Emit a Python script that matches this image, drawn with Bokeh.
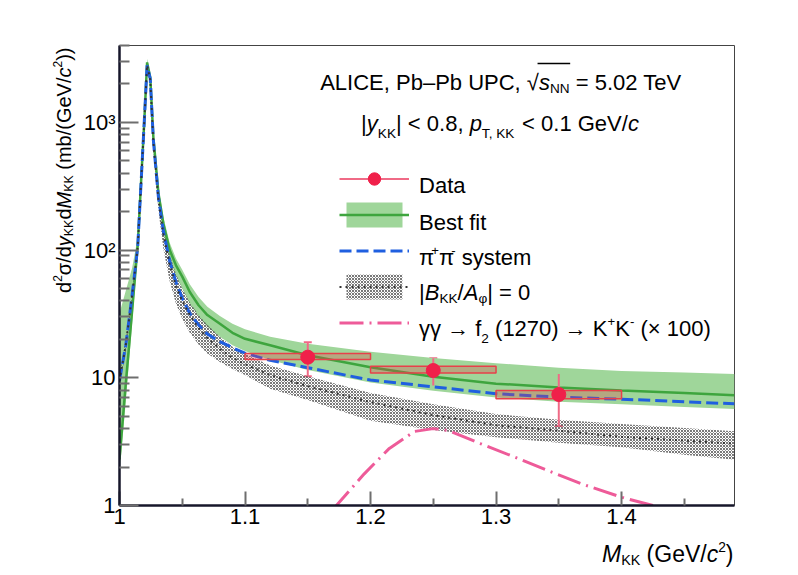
import math
from bokeh.plotting import figure
from bokeh.layouts import row, column
from bokeh.models import (Range1d, FixedTicker, CustomJSTickFormatter, Label, Legend,
                          LegendItem, ColumnDataSource, Whisker, TeeHead, BoxAnnotation)
from bokeh.embed import file_html
from bokeh.resources import INLINE

# ---------------- data ----------------
FIT_X = [1.000, 1.005, 1.010, 1.0145, 1.0197, 1.0220, 1.0245, 1.027, 1.031, 1.035,
         1.040, 1.045, 1.050, 1.056, 1.063, 1.070, 1.080, 1.090, 1.100, 1.120,
         1.150, 1.200, 1.250, 1.300, 1.350, 1.400, 1.450, 1.490]

BEST_FIT = [2.3, 9.0, 33, 108, 1000, 2950, 2250, 760, 280, 160,
            100, 76, 62, 47, 37, 31, 26.5, 22.5, 20.2, 18,
            15, 12.1, 10.2, 9.0, 8.4, 7.95, 7.6, 7.3]
BEST_FIT_HI = [32, 48, 72, 125, 1080, 3150, 2400, 820, 310, 180,
               114, 86, 70, 54, 43, 36, 30.5, 26.5, 24, 21,
               18.5, 16, 14.3, 13, 12, 11.3, 11, 10.7]
BEST_FIT_LO = [1.8, 6.5, 26, 92, 920, 2750, 2050, 680, 245, 135,
               84, 63, 50, 38, 30, 25, 21, 18, 16.2, 13.8,
               11.5, 9.2, 7.9, 7.0, 6.5, 6.2, 5.9, 5.7]

PIPI = [9.5, 18, 44, 105, 1000, 2800, 2200, 720, 260, 140,
        82, 56, 42, 32, 26, 22, 19.2, 17.2, 15.6, 13.7,
        12.0, 9.6, 8.5, 7.5, 7.05, 6.8, 6.5, 6.25]

NOINT = [9.5, 18, 44, 105, 1000, 2800, 2150, 700, 250, 132,
         77, 52, 40, 31, 24.5, 20.5, 16.8, 14.3, 12.8, 10.5,
         8.6, 6.45, 5.1, 4.25, 3.85, 3.45, 3.22, 3.05]
NOINT_HI = [10.5, 20, 48, 113, 1060, 2950, 2300, 760, 275, 150,
            92, 65, 50, 39, 31, 26, 21, 17.5, 15.4, 12.5,
            10.3, 7.6, 6.2, 5.2, 4.7, 4.35, 4.05, 3.82]
NOINT_LO = [8.5, 16, 40, 96, 920, 2600, 1900, 600, 205, 102,
            57, 38, 29, 22.5, 18.2, 15.5, 13.3, 11.7, 10.5, 8.2,
            6.7, 4.6, 3.9, 3.43, 3.1, 2.86, 2.5, 2.28]

F2_X = [1.170, 1.195, 1.215, 1.235, 1.250, 1.262, 1.288, 1.315, 1.341, 1.368, 1.400, 1.425, 1.450]
F2_Y = [0.93, 1.77, 2.8, 3.8, 4.0, 3.87, 3.04, 2.39, 1.88, 1.48, 1.16, 1.0, 0.88]

DATA_X = [1.15, 1.25, 1.35]
DATA_Y = [14.5, 11.4, 7.4]
STAT_LO = [10.3, 8.7, 4.2]
STAT_HI = [19.0, 14.2, 10.7]
BIN_LO = [1.1, 1.2, 1.3]
BIN_HI = [1.2, 1.3, 1.4]
SYS_LO = [13.9, 10.9, 6.85]
SYS_HI = [15.5, 12.3, 7.95]

X_TICKS = [1.0, 1.1, 1.2, 1.3, 1.4]
X_TICK_LABELS = ["1", "1.1", "1.2", "1.3", "1.4"]
X_MINOR = [1.05, 1.15, 1.25, 1.35, 1.45]
Y_TICKS = [1, 10, 100, 1000]
Y_TICK_LABELS = ["1", "10", "10²", "10³"]
Y_MINOR = [2, 3, 4, 5, 6, 7, 8, 9, 20, 30, 40, 50, 60, 70, 80, 90,
           200, 300, 400, 500, 600, 700, 800, 900, 2000, 3000, 4000]

X_RANGE = (1.0, 1.49)
Y_RANGE = (1.0, 4000.0)

FONT = "Liberation Sans"
LEFT_W = 80      # strip holding the y-axis title
TOP_H = 535      # height of the main row; strip below holds the x-axis title
TOTAL_W, TOTAL_H = 790, 567


def blank_fig(w, h):
    f = figure(width=w, height=h, x_range=Range1d(0, w), y_range=Range1d(0, h),
               output_backend="svg", toolbar_location=None, min_border=0,
               x_axis_location=None, y_axis_location=None)
    f.title.visible = False
    f.grid.visible = False
    f.outline_line_color = None
    f.background_fill_color = "white"
    f.border_fill_color = "white"
    return f


yfig = blank_fig(LEFT_W, TOP_H)
xfig = blank_fig(TOTAL_W, TOTAL_H - TOP_H)

# ---------------- main figure ----------------
p = figure(width=TOTAL_W - LEFT_W, height=TOP_H, x_range=Range1d(*X_RANGE),
           y_range=Range1d(*Y_RANGE), y_axis_type="log", output_backend="svg",
           toolbar_location=None, min_border_left=118 - LEFT_W, min_border_right=56,
           min_border_top=45, min_border_bottom=TOP_H - 505)
p.title.visible = False
p.grid.visible = False
p.background_fill_color = "white"
p.border_fill_color = "white"
p.outline_line_color = "#444444"
p.outline_line_width = 1

xa = p.xaxis[0]
xa.ticker = FixedTicker(ticks=X_TICKS, minor_ticks=X_MINOR)
xa.formatter = CustomJSTickFormatter(args=dict(t=X_TICKS, l=X_TICK_LABELS), code="""
for (let i = 0; i < t.length; i++) { if (Math.abs(t[i] - tick) < 1e-6) return l[i]; }
return '';""")
xa.major_tick_in = 14
xa.major_tick_out = 0
xa.minor_tick_in = 7
xa.minor_tick_out = 0

ya = p.yaxis[0]
ya.ticker = FixedTicker(ticks=Y_TICKS, minor_ticks=Y_MINOR)
ya.formatter = CustomJSTickFormatter(args=dict(t=Y_TICKS, l=Y_TICK_LABELS), code="""
for (let i = 0; i < t.length; i++) { if (Math.abs(Math.log10(t[i]) - Math.log10(tick)) < 1e-6) return l[i]; }
return '';""")
ya.major_tick_in = 19
ya.major_tick_out = 0
ya.minor_tick_in = 10
ya.minor_tick_out = 0

for ax in (xa, ya):
    ax.axis_line_color = "#16162a"
    ax.axis_line_width = 2.5
    ax.major_tick_line_color = "#6e6e6e"
    ax.minor_tick_line_color = "#6e6e6e"
    ax.major_tick_line_width = 2
    ax.minor_tick_line_width = 2
    ax.major_label_text_font = FONT
    ax.major_label_text_font_size = "22px"
    ax.major_label_text_color = "black"
xa.major_label_standoff = 3
ya.major_label_standoff = 4

# ---------------- glyphs ----------------
band_r = p.varea(x=FIT_X, y1=BEST_FIT_LO, y2=BEST_FIT_HI, fill_color="#9fd69a", fill_alpha=1.0)
hatch_r = p.varea(x=FIT_X, y1=NOINT_LO, y2=NOINT_HI, fill_alpha=0.0,
                  hatch_pattern="diagonal_cross", hatch_scale=3, hatch_weight=0.8,
                  hatch_color="#555555", hatch_alpha=1.0)
gline_r = p.line(FIT_X, BEST_FIT, line_color="#3ea53e", line_width=2.5)
f2_r = p.line(F2_X, F2_Y, line_color="#ee5b99", line_width=3, line_dash="24 6 2 6")
pipi_r = p.line(FIT_X, PIPI, line_color="#1f5fe0", line_width=3, line_dash="12 5")
noint_r = p.line(FIT_X, NOINT, line_color="#333333", line_width=2, line_dash="2 4")

p.quad(left=BIN_LO, right=BIN_HI, bottom=SYS_LO, top=SYS_HI,
       fill_color="#e8404a", fill_alpha=0.3, line_color="#e8404a", line_width=1.5)
err_src = ColumnDataSource(dict(x=DATA_X, lo=STAT_LO, hi=STAT_HI))
seg_r = p.segment(x0="x", y0="lo", x1="x", y1="hi", source=err_src,
                  line_color="#f06a86", line_width=2)
p.add_layout(Whisker(source=err_src, base="x", lower="lo", upper="hi", dimension="height",
                     line_alpha=0.0,
                     upper_head=TeeHead(size=8, line_color="#f06a86", line_width=2),
                     lower_head=TeeHead(size=8, line_color="#f06a86", line_width=2)))
mark_r = p.scatter(DATA_X, DATA_Y, marker="circle", size=14,
                   fill_color="#f0204a", line_color="#f0204a")

legend = Legend(items=[
    LegendItem(label=" ", renderers=[seg_r, mark_r]),
    LegendItem(label=" ", renderers=[band_r, gline_r]),
    LegendItem(label=" ", renderers=[pipi_r]),
    LegendItem(label=" ", renderers=[hatch_r, noint_r]),
    LegendItem(label=" ", renderers=[f2_r]),
], location=(219.5, 167.5), glyph_width=70, glyph_height=31, spacing=5, padding=0, margin=0,
    border_line_alpha=0, background_fill_alpha=0, label_text_font_size="8px",
    label_height=8, label_width=0, label_standoff=0)
p.add_layout(legend)

# ---------------- rich text helpers ----------------
WID = {' ': .278, '(': .333, ')': .333, ',': .278, '-': .333, '.': .278, '/': .278,
       '<': .584, '=': .584, '|': .26, '+': .584, '–': .556, '×': .584, '→': 1.0,
       '√': .549, 'σ': .617, 'π': .556, 'γ': .5, 'φ': .649,
       'A': .667, 'B': .667, 'C': .722, 'D': .722, 'E': .667, 'G': .778, 'I': .278,
       'K': .667, 'L': .556, 'M': .833, 'N': .722, 'P': .667, 'T': .611, 'U': .722,
       'V': .667, 'a': .556, 'b': .556, 'c': .5, 'd': .556, 'e': .556, 'f': .278,
       'i': .222, 'm': .833, 'p': .556, 's': .5, 't': .278, 'y': .5}
for ch in "0123456789":
    WID[ch] = .556


def px2x(px):
    return X_RANGE[0] + (px - 118.0) / 616.0 * (X_RANGE[1] - X_RANGE[0])


def py2y(py):
    l0, l1 = math.log10(Y_RANGE[0]), math.log10(Y_RANGE[1])
    return 10 ** (l0 + (505.0 - py) / 460.0 * (l1 - l0))


def rich(segs, px, py, size, angle=0.0, align="left", fig=None, ox=0.0, oy=0.0):
    """fig None -> main plot in data units; otherwise a blank strip in canvas units,
    (ox, oy) being the strip's page offset."""
    items = []
    adv = 0.0
    for text, kind in segs:
        if kind in ("sub", "sub2"):
            s = size * 0.62
            shift = -(0.28 if kind == "sub" else 0.45) * size
        elif kind == "sup":
            s = size * 0.6
            shift = 0.3 * size
        else:
            s = size
            shift = 0.0
        body = text.lstrip(" ")
        lead = (len(text) - len(body)) * WID[' '] * s
        w = sum(WID.get(c, .556) for c in text) * s
        items.append((body, s, shift, adv + lead, w, kind == "i"))
        adv += w
    start = 0.0 if align == "left" else -adv
    if fig is None:
        target, units, ax_, ay_ = p, "data", px2x(px), py2y(py)
    else:
        target, units, ax_, ay_ = fig, "canvas", px - ox, py - oy
    spans = []
    for body, s, shift, a, w, italic in items:
        if angle == 0.0:
            xo, yo = start + a, shift
        else:
            xo, yo = -shift, start + a
        target.add_layout(Label(x=ax_, y=ay_, x_units=units, y_units=units,
                                x_offset=xo, y_offset=yo, text=body, text_font=FONT,
                                text_font_size=f"{s:.1f}px",
                                text_font_style="italic" if italic else "normal",
                                text_baseline="alphabetic", text_align="left",
                                angle=angle, text_color="black"))
        spans.append((px + start + a, px + start + a + w))
    return spans


# header
sp = rich([("ALICE, Pb–Pb UPC, ", "n"), ("√", "n"), ("s", "i"), ("NN", "sub"),
           (" = 5.02 TeV", "n")], 319, 82, 22)
p.add_layout(BoxAnnotation(left=px2x(sp[1][1] - 1), right=px2x(sp[3][1] + 1),
                           top=py2y(62.3), bottom=py2y(63.8),
                           fill_color="black", fill_alpha=1.0, line_alpha=0.0))
rich([("|", "n"), ("y", "i"), ("KK", "sub2"), ("| < 0.8, ", "n"), ("p", "i"),
      ("T, KK", "sub2"), (" < 0.1 GeV/", "n"), ("c", "i")], 360, 122.7, 22)

# legend labels
rich([("Data", "n")], 418, 185, 22)
rich([("Best fit", "n")], 418, 221.7, 22)
rich([("π", "n"), ("+", "sup"), ("π", "n"), ("-", "sup"), (" system", "n")], 418, 256.7, 22)
rich([("|", "n"), ("B", "i"), ("KK", "sub"), ("/", "n"), ("A", "i"), ("φ", "sub"),
      ("| = 0", "n")], 418, 292, 22)
rich([("γγ ", "n"), ("→", "n"), (" f", "n"), ("2", "sub2"), (" (1270) ", "n"), ("→", "n"),
      (" K", "n"), ("+", "sup"), ("K", "n"), ("-", "sup"), (" (× 100)", "n")], 418, 328, 22)

# axis titles in their own strips
rich([("M", "i"), ("KK", "sub"), (" (GeV/", "n"), ("c", "i"), ("2", "sup"), (")", "n")],
     733, 553, 23, align="right", fig=xfig, ox=0, oy=TOP_H)
rich([("d", "n"), ("2", "sup"), ("σ/d", "n"), ("y", "i"), ("KK", "sub"), ("d", "n"),
      ("M", "i"), ("KK", "sub"), (" (mb/(GeV/", "n"), ("c", "i"), ("2", "sup"), ("))", "n")],
     63, 47, 20, angle=math.pi / 2, align="right", fig=yfig, ox=0, oy=0)

layout = column(row(yfig, p, spacing=0), xfig, spacing=0)
open("out.html", "w").write(file_html(layout, INLINE))
